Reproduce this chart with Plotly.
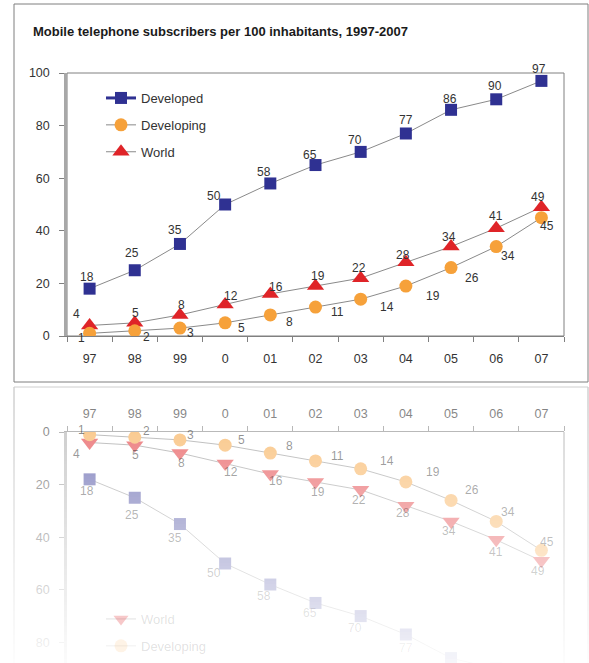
import plotly.graph_objects as go

# ---------------- data ----------------
years = ["97", "98", "99", "0", "01", "02", "03", "04", "05", "06", "07"]
developed = [18, 25, 35, 50, 58, 65, 70, 77, 86, 90, 97]
developing = [1, 2, 3, 5, 8, 11, 14, 19, 26, 34, 45]
world = [4, 5, 8, 12, 16, 19, 22, 28, 34, 41, 49]
y_ticks = [0, 20, 40, 60, 80, 100]
y_ticks_reflect = [0, 20, 40, 60, 80]
series_names = ["Developed", "Developing", "World"]
chart_title = "Mobile telephone subscribers per 100 inhabitants, 1997-2007"

# ---------------- styling ----------------
W, H = 589, 663
FONT = "Liberation Sans, Arial, sans-serif"
NAVY = "#2f3192"
ORANGE = "#f6a13a"
RED = "#df2428"
LINEGREY = "#8a8a8a"
TXT = "#333333"

# label offsets in pixels (dx right, dy down) relative to the marker centre
off_dev = [(-3, -12), (-3, -17), (-5, -14), (-11, -9), (-6, -11), (-6, -10),
           (-6, -12), (0, -13), (-1, -11), (-1, -13), (-2, -12)]
off_dvg = [(-8, 5), (12, 6), (11, 5), (16, 5), (19, 7), (22, 5), (26, 8),
           (27, 10), (21, 10), (12, 9), (6, 8)]
off_wld = [(-13, -11), (1, -10), (2, -10), (6, -8), (6, -7), (2, -10),
           (-2, -10), (-3, -7), (-2, -10), (0, -12), (-3, -10)]


def pxx(p):
    return p / W


def pxy(p):
    return 1 - p / H


PX_PER_UNIT = 2.63
ZERO_MAIN = 336
TOP_MAIN = 73
ZERO_REF = 432

fig = go.Figure()

series = [
    ("Developed", developed, "square", NAVY, 12, off_dev),
    ("World", world, "triangle-up", RED, 15, off_wld),
    ("Developing", developing, "circle", ORANGE, 13, off_dvg),
]

# main chart traces
for name, vals, sym, col, size, _ in series:
    fig.add_trace(go.Scatter(
        x=years, y=vals, name=name, mode="lines+markers",
        line=dict(color=LINEGREY, width=1),
        marker=dict(symbol=sym, color=col, size=size, line=dict(width=0)),
        showlegend=False, xaxis="x", yaxis="y", hoverinfo="skip"))

# reflection traces (mirrored axis)
for name, vals, sym, col, size, _ in series:
    rsym = "triangle-down" if sym == "triangle-up" else sym
    fig.add_trace(go.Scatter(
        x=years, y=vals, name=name, mode="lines+markers",
        line=dict(color=LINEGREY, width=1),
        marker=dict(symbol=rsym, color=col, size=size, line=dict(width=0)),
        showlegend=False, xaxis="x2", yaxis="y2", hoverinfo="skip"))

# legend entries (main)
legend_styles = {
    "Developed": dict(line=dict(color=NAVY, width=3),
                      marker=dict(symbol="square", color=NAVY, size=12)),
    "Developing": dict(line=dict(color=LINEGREY, width=1),
                       marker=dict(symbol="circle", color=ORANGE, size=13)),
    "World": dict(line=dict(color=LINEGREY, width=1),
                  marker=dict(symbol="triangle-up", color=RED, size=15)),
}
for i, name in enumerate(series_names):
    st = legend_styles[name]
    fig.add_trace(go.Scatter(
        x=[None], y=[None], name=name, mode="lines+markers",
        line=st["line"], marker=st["marker"], legend="legend",
        legendgroup="m%d" % i, xaxis="x", yaxis="y"))

# reflected legend entries (faded); the mirrored "Developed" entry falls below the page
fade_legend = {"World": 0.25, "Developing": 0.13}
rgb = {"Developing": (246, 161, 58), "World": (223, 36, 40)}
for i, name in enumerate(["World", "Developing"]):
    a = fade_legend[name]
    r, g, b = rgb[name]
    mcol = "rgba(%d,%d,%d,%.2f)" % (r, g, b, a)
    lcol = "rgba(138,138,138,%.2f)" % a
    sym = {"Developing": "circle", "World": "triangle-down"}[name]
    fig.add_trace(go.Scatter(
        x=[None], y=[None], name=name, mode="lines+markers",
        line=dict(color=lcol, width=1),
        marker=dict(symbol=sym, color=mcol, size=13), legend="legend2",
        legendgroup="r%d" % i, xaxis="x2", yaxis="y2"))

annotations = []
# title
annotations.append(dict(
    x=pxx(31), y=pxy(31), xref="paper", yref="paper", xanchor="left",
    yanchor="middle", showarrow=False, text="<b>%s</b>" % chart_title,
    font=dict(family=FONT, size=13, color="#1a1a1a")))


def fade_alpha(ypx):
    a = 0.55 - 0.0022 * (ypx - ZERO_REF)
    return max(0.04, min(0.62, a))


# data labels (x given as category index on the category axis)
for name, vals, sym, col, size, offs in series:
    for i, v in enumerate(vals):
        dx, dy = offs[i]
        annotations.append(dict(
            x=i, y=v, xref="x", yref="y", text=str(v), showarrow=False,
            xshift=dx, yshift=-dy, font=dict(family=FONT, size=12, color=TXT)))
        ypx = ZERO_REF + v * PX_PER_UNIT - dy
        if ypx > H - 6:
            continue  # mirrored label falls below the page
        a = fade_alpha(ypx)
        annotations.append(dict(
            x=i, y=v, xref="x2", yref="y2", text=str(v), showarrow=False,
            xshift=dx, yshift=dy,
            font=dict(family=FONT, size=12, color="rgba(51,51,51,%.2f)" % a)))

shapes = []
# outer frame of the chart
shapes.append(dict(type="rect", xref="paper", yref="paper", x0=pxx(14), x1=pxx(588),
                   y0=pxy(382), y1=pxy(4), line=dict(color="#7f7f7f", width=1),
                   layer="below"))
# plot area border (main)
shapes.append(dict(type="rect", xref="x domain", yref="y domain", x0=0, x1=1, y0=0, y1=1,
                   line=dict(color="#808080", width=1), layer="below"))
# reflected frame pieces
shapes.append(dict(type="line", xref="paper", yref="paper", x0=pxx(14), x1=pxx(14),
                   y0=pxy(387), y1=0, line=dict(color="#909090", width=1), layer="above"))
shapes.append(dict(type="line", xref="paper", yref="paper", x0=pxx(588), x1=pxx(588),
                   y0=pxy(387), y1=0, line=dict(color="#909090", width=1), layer="above"))
shapes.append(dict(type="line", xref="paper", yref="paper", x0=pxx(14), x1=pxx(588),
                   y0=pxy(387), y1=pxy(387), line=dict(color="#b0b0b0", width=1), layer="above"))
shapes.append(dict(type="line", xref="x2 domain", yref="y2 domain", x0=1, x1=1, y0=0, y1=1,
                   line=dict(color="#808080", width=1), layer="above"))
# fading overlay for the reflection (white strips with increasing opacity)
step = 3
ytop = 383
while ytop < H:
    ybot = min(H, ytop + step)
    yc = (ytop + ybot) / 2
    w = 1 - fade_alpha(yc)
    shapes.append(dict(type="rect", xref="paper", yref="paper", x0=0, x1=1,
                       y0=pxy(ybot), y1=pxy(ytop), fillcolor="rgba(255,255,255,%.3f)" % w,
                       line=dict(width=0), layer="above"))
    ytop = ybot

fig.update_layout(
    width=W, height=H, margin=dict(l=0, r=0, t=0, b=0, autoexpand=False),
    paper_bgcolor="white", plot_bgcolor="white",
    font=dict(family=FONT, size=12, color=TXT),
    xaxis=dict(domain=[pxx(67), pxx(564)], type="category", range=[-0.5, 10.5],
               anchor="y", showline=True, linecolor="#808080", linewidth=1,
               ticks="outside", tickson="boundaries", ticklen=5, tickcolor="#808080",
               showgrid=False, zeroline=False, ticklabelstandoff=11,
               tickfont=dict(family=FONT, size=12.5, color=TXT), fixedrange=True),
    yaxis=dict(domain=[pxy(ZERO_MAIN), pxy(TOP_MAIN)], range=[0, 100], anchor="x",
               tickvals=y_ticks, ticktext=[str(t) for t in y_ticks],
               showline=True, linecolor="#a8a8a8", linewidth=2.5,
               ticks="outside", ticklen=5, tickcolor="#808080", showgrid=False,
               zeroline=False, ticklabelstandoff=7,
               tickfont=dict(family=FONT, size=12.5, color=TXT), fixedrange=True),
    xaxis2=dict(domain=[pxx(67), pxx(564)], type="category", range=[-0.5, 10.5],
                anchor="y2", side="top", showline=True, linecolor="#808080", linewidth=1,
                ticks="outside", tickson="boundaries", ticklen=5, tickcolor="#808080",
                showgrid=False, zeroline=False, ticklabelstandoff=8,
                tickfont=dict(family=FONT, size=12.5, color=TXT), fixedrange=True),
    yaxis2=dict(domain=[0, pxy(ZERO_REF)], range=[(H - ZERO_REF) / PX_PER_UNIT, 0],
                anchor="x2", tickvals=y_ticks_reflect,
                ticktext=[str(t) for t in y_ticks_reflect],
                showline=True, linecolor="#a8a8a8", linewidth=2.5,
                ticks="outside", ticklen=5, tickcolor="#808080", showgrid=False,
                zeroline=False, ticklabelstandoff=7,
                tickfont=dict(family=FONT, size=12.5, color=TXT), fixedrange=True),
    legend=dict(x=pxx(101), y=pxy(83), xanchor="left", yanchor="top",
                traceorder="grouped", tracegroupgap=7, bgcolor="rgba(0,0,0,0)",
                font=dict(family=FONT, size=13, color=TXT), itemclick=False,
                itemdoubleclick=False),
    legend2=dict(x=pxx(101), y=pxy(604), xanchor="left", yanchor="top",
                 traceorder="grouped", tracegroupgap=7, bgcolor="rgba(0,0,0,0)",
                 font=dict(family=FONT, size=13, color="rgba(51,51,51,0.15)"),
                 itemclick=False, itemdoubleclick=False),
    annotations=annotations,
    shapes=shapes,
    showlegend=True,
)

fig.write_html(
    "out.html",
    config={"displayModeBar": False},
    post_script="document.body.style.margin='0px';"
                "document.body.style.overflow='hidden';"
                "document.documentElement.style.overflow='hidden';",
)
